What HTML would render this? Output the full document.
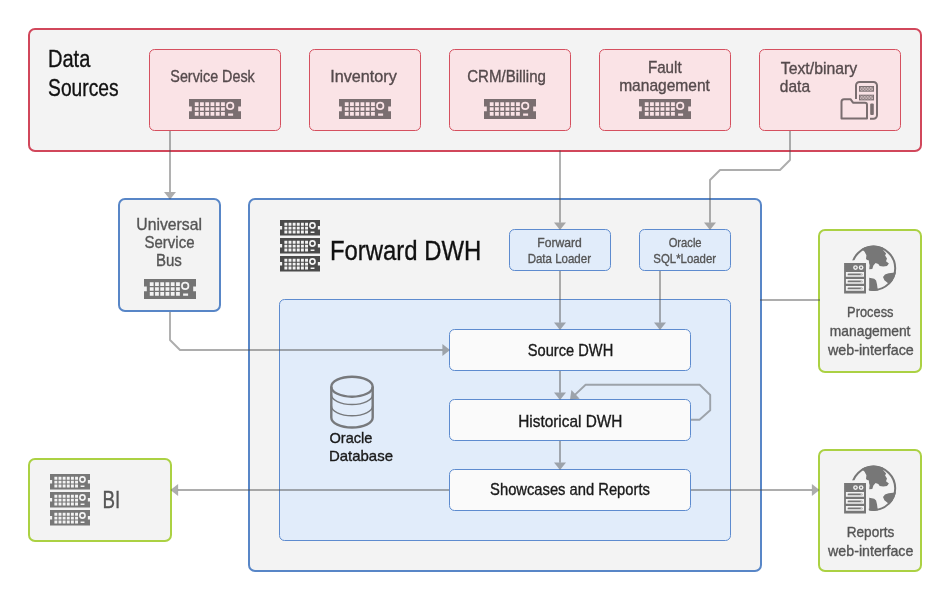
<!DOCTYPE html>
<html><head><meta charset="utf-8"><title>Forward DWH</title>
<style>html,body{margin:0;padding:0;background:#fff}svg{display:block;will-change:transform}text{font-family:"Liberation Sans",sans-serif}</style>
</head><body>
<svg width="950" height="600" viewBox="0 0 950 600" font-family="Liberation Sans, sans-serif">
<rect width="950" height="600" fill="#fff"/>
<rect x="29" y="29" width="892" height="122" rx="6" fill="#f3f3f3" stroke="#d1475b" stroke-width="2"/>
<rect x="149.5" y="49.5" width="131.0" height="81" rx="5" fill="#fae3e6" stroke="#d5505f" stroke-width="1"/>
<rect x="309.5" y="49.5" width="111.0" height="81" rx="5" fill="#fae3e6" stroke="#d5505f" stroke-width="1"/>
<rect x="449.5" y="49.5" width="121.0" height="81" rx="5" fill="#fae3e6" stroke="#d5505f" stroke-width="1"/>
<rect x="599.5" y="49.5" width="131.0" height="81" rx="5" fill="#fae3e6" stroke="#d5505f" stroke-width="1"/>
<rect x="759.5" y="49.5" width="141.0" height="81" rx="5" fill="#fae3e6" stroke="#d5505f" stroke-width="1"/>
<path transform="translate(189 99) scale(1.0 1.0)" d="M0 0H52V7.6H49.2V12.2H52V20H0V12.2H2.8V7.6H0ZM5.80 3.20h3.8v3.7h-3.8ZM11.05 3.20h3.8v3.7h-3.8ZM16.30 3.20h3.8v3.7h-3.8ZM21.55 3.20h3.8v3.7h-3.8ZM26.80 3.20h3.8v3.7h-3.8ZM32.05 3.20h3.8v3.7h-3.8ZM5.80 8.15h3.8v3.7h-3.8ZM11.05 8.15h3.8v3.7h-3.8ZM16.30 8.15h3.8v3.7h-3.8ZM21.55 8.15h3.8v3.7h-3.8ZM26.80 8.15h3.8v3.7h-3.8ZM32.05 8.15h3.8v3.7h-3.8ZM5.80 13.10h3.8v3.7h-3.8ZM11.05 13.10h3.8v3.7h-3.8ZM16.30 13.10h3.8v3.7h-3.8ZM21.55 13.10h3.8v3.7h-3.8ZM26.80 13.10h3.8v3.7h-3.8ZM32.05 13.10h3.8v3.7h-3.8ZM37.10 6.9a4.1 4.1 0 1 0 8.2 0a4.1 4.1 0 1 0 -8.2 0ZM38.80 6.9a2.4 2.4 0 1 0 4.8 0a2.4 2.4 0 1 0 -4.8 0ZM39.1 14.6h5v2.1h-5Z" fill="#7a6e70" fill-rule="evenodd"/>
<path transform="translate(339 99) scale(1.0 1.0)" d="M0 0H52V7.6H49.2V12.2H52V20H0V12.2H2.8V7.6H0ZM5.80 3.20h3.8v3.7h-3.8ZM11.05 3.20h3.8v3.7h-3.8ZM16.30 3.20h3.8v3.7h-3.8ZM21.55 3.20h3.8v3.7h-3.8ZM26.80 3.20h3.8v3.7h-3.8ZM32.05 3.20h3.8v3.7h-3.8ZM5.80 8.15h3.8v3.7h-3.8ZM11.05 8.15h3.8v3.7h-3.8ZM16.30 8.15h3.8v3.7h-3.8ZM21.55 8.15h3.8v3.7h-3.8ZM26.80 8.15h3.8v3.7h-3.8ZM32.05 8.15h3.8v3.7h-3.8ZM5.80 13.10h3.8v3.7h-3.8ZM11.05 13.10h3.8v3.7h-3.8ZM16.30 13.10h3.8v3.7h-3.8ZM21.55 13.10h3.8v3.7h-3.8ZM26.80 13.10h3.8v3.7h-3.8ZM32.05 13.10h3.8v3.7h-3.8ZM37.10 6.9a4.1 4.1 0 1 0 8.2 0a4.1 4.1 0 1 0 -8.2 0ZM38.80 6.9a2.4 2.4 0 1 0 4.8 0a2.4 2.4 0 1 0 -4.8 0ZM39.1 14.6h5v2.1h-5Z" fill="#7a6e70" fill-rule="evenodd"/>
<path transform="translate(484 99) scale(1.0 1.0)" d="M0 0H52V7.6H49.2V12.2H52V20H0V12.2H2.8V7.6H0ZM5.80 3.20h3.8v3.7h-3.8ZM11.05 3.20h3.8v3.7h-3.8ZM16.30 3.20h3.8v3.7h-3.8ZM21.55 3.20h3.8v3.7h-3.8ZM26.80 3.20h3.8v3.7h-3.8ZM32.05 3.20h3.8v3.7h-3.8ZM5.80 8.15h3.8v3.7h-3.8ZM11.05 8.15h3.8v3.7h-3.8ZM16.30 8.15h3.8v3.7h-3.8ZM21.55 8.15h3.8v3.7h-3.8ZM26.80 8.15h3.8v3.7h-3.8ZM32.05 8.15h3.8v3.7h-3.8ZM5.80 13.10h3.8v3.7h-3.8ZM11.05 13.10h3.8v3.7h-3.8ZM16.30 13.10h3.8v3.7h-3.8ZM21.55 13.10h3.8v3.7h-3.8ZM26.80 13.10h3.8v3.7h-3.8ZM32.05 13.10h3.8v3.7h-3.8ZM37.10 6.9a4.1 4.1 0 1 0 8.2 0a4.1 4.1 0 1 0 -8.2 0ZM38.80 6.9a2.4 2.4 0 1 0 4.8 0a2.4 2.4 0 1 0 -4.8 0ZM39.1 14.6h5v2.1h-5Z" fill="#7a6e70" fill-rule="evenodd"/>
<path transform="translate(639 99) scale(1.0 1.0)" d="M0 0H52V7.6H49.2V12.2H52V20H0V12.2H2.8V7.6H0ZM5.80 3.20h3.8v3.7h-3.8ZM11.05 3.20h3.8v3.7h-3.8ZM16.30 3.20h3.8v3.7h-3.8ZM21.55 3.20h3.8v3.7h-3.8ZM26.80 3.20h3.8v3.7h-3.8ZM32.05 3.20h3.8v3.7h-3.8ZM5.80 8.15h3.8v3.7h-3.8ZM11.05 8.15h3.8v3.7h-3.8ZM16.30 8.15h3.8v3.7h-3.8ZM21.55 8.15h3.8v3.7h-3.8ZM26.80 8.15h3.8v3.7h-3.8ZM32.05 8.15h3.8v3.7h-3.8ZM5.80 13.10h3.8v3.7h-3.8ZM11.05 13.10h3.8v3.7h-3.8ZM16.30 13.10h3.8v3.7h-3.8ZM21.55 13.10h3.8v3.7h-3.8ZM26.80 13.10h3.8v3.7h-3.8ZM32.05 13.10h3.8v3.7h-3.8ZM37.10 6.9a4.1 4.1 0 1 0 8.2 0a4.1 4.1 0 1 0 -8.2 0ZM38.80 6.9a2.4 2.4 0 1 0 4.8 0a2.4 2.4 0 1 0 -4.8 0ZM39.1 14.6h5v2.1h-5Z" fill="#7a6e70" fill-rule="evenodd"/>
<g fill="none" stroke="#7a6e70" stroke-width="2" stroke-linejoin="round">
<path d="M856 99 V85.5 a3.5 3.5 0 0 1 3.500 -3.500 h14 a3.5 3.5 0 0 1 3.500 3.500 v29.800 a3.5 3.5 0 0 1 -3.500 3.500 h-3.500"/>
<path d="M841.5 118.600 V101.700 a2.500 2.500 0 0 1 2.500 -2.500 h6.500 l2.500 3.500 h12 a2 2 0 0 1 2 2 v13.900 Z"/>
</g>
<defs><pattern id="hatch" width="1.5" height="1.5" patternUnits="userSpaceOnUse"><rect width="1.5" height="1.5" fill="#7a6e70"/><rect x="0" y="0" width="0.7" height="0.7" fill="#fae3e6"/><rect x="0.75" y="0.75" width="0.7" height="0.7" fill="#fae3e6"/></pattern></defs>
<rect x="859" y="86.0" width="15" height="5.700" fill="#7a6e70"/>
<rect x="859.9" y="86.9" width="13.2" height="3.900" fill="url(#hatch)"/>
<rect x="859" y="94.7" width="15" height="5.700" fill="#7a6e70"/>
<rect x="859.9" y="95.60000000000001" width="13.2" height="3.900" fill="url(#hatch)"/>
<rect x="870.2" y="103.500" width="3.600" height="11.500" rx="1" fill="#7a6e70"/>
<rect x="119" y="199" width="101" height="112" rx="6" fill="#f3f3f3" stroke="#5886c7" stroke-width="2"/>
<path transform="translate(144 279) scale(1.0 1.0)" d="M0 0H52V7.6H49.2V12.2H52V20H0V12.2H2.8V7.6H0ZM5.80 3.20h3.8v3.7h-3.8ZM11.05 3.20h3.8v3.7h-3.8ZM16.30 3.20h3.8v3.7h-3.8ZM21.55 3.20h3.8v3.7h-3.8ZM26.80 3.20h3.8v3.7h-3.8ZM32.05 3.20h3.8v3.7h-3.8ZM5.80 8.15h3.8v3.7h-3.8ZM11.05 8.15h3.8v3.7h-3.8ZM16.30 8.15h3.8v3.7h-3.8ZM21.55 8.15h3.8v3.7h-3.8ZM26.80 8.15h3.8v3.7h-3.8ZM32.05 8.15h3.8v3.7h-3.8ZM5.80 13.10h3.8v3.7h-3.8ZM11.05 13.10h3.8v3.7h-3.8ZM16.30 13.10h3.8v3.7h-3.8ZM21.55 13.10h3.8v3.7h-3.8ZM26.80 13.10h3.8v3.7h-3.8ZM32.05 13.10h3.8v3.7h-3.8ZM37.10 6.9a4.1 4.1 0 1 0 8.2 0a4.1 4.1 0 1 0 -8.2 0ZM38.80 6.9a2.4 2.4 0 1 0 4.8 0a2.4 2.4 0 1 0 -4.8 0ZM39.1 14.6h5v2.1h-5Z" fill="#747474" fill-rule="evenodd"/>
<rect x="249" y="199" width="512" height="372" rx="6" fill="#f3f3f3" stroke="#5886c7" stroke-width="2"/>
<path transform="translate(280 220) scale(0.7692307692307693 0.78)" d="M0 0H52V7.6H49.2V12.2H52V20H0V12.2H2.8V7.6H0ZM5.70 3.60h3.8v3.7h-3.8ZM11.08 3.60h3.8v3.7h-3.8ZM16.46 3.60h3.8v3.7h-3.8ZM21.84 3.60h3.8v3.7h-3.8ZM27.22 3.60h3.8v3.7h-3.8ZM32.60 3.60h3.8v3.7h-3.8ZM5.70 8.55h3.8v3.7h-3.8ZM11.08 8.55h3.8v3.7h-3.8ZM16.46 8.55h3.8v3.7h-3.8ZM21.84 8.55h3.8v3.7h-3.8ZM27.22 8.55h3.8v3.7h-3.8ZM32.60 8.55h3.8v3.7h-3.8ZM5.70 13.50h3.8v3.7h-3.8ZM11.08 13.50h3.8v3.7h-3.8ZM16.46 13.50h3.8v3.7h-3.8ZM21.84 13.50h3.8v3.7h-3.8ZM27.22 13.50h3.8v3.7h-3.8ZM32.60 13.50h3.8v3.7h-3.8ZM37.80 7.0a4.4 4.4 0 1 0 8.8 0a4.4 4.4 0 1 0 -8.8 0ZM39.90 7.0a2.3 2.3 0 1 0 4.6 0a2.3 2.3 0 1 0 -4.6 0ZM39.8 14.6h5v2.1h-5Z" fill="#4b4b4b" fill-rule="evenodd"/><path transform="translate(280 238) scale(0.7692307692307693 0.78)" d="M0 0H52V7.6H49.2V12.2H52V20H0V12.2H2.8V7.6H0ZM5.70 3.60h3.8v3.7h-3.8ZM11.08 3.60h3.8v3.7h-3.8ZM16.46 3.60h3.8v3.7h-3.8ZM21.84 3.60h3.8v3.7h-3.8ZM27.22 3.60h3.8v3.7h-3.8ZM32.60 3.60h3.8v3.7h-3.8ZM5.70 8.55h3.8v3.7h-3.8ZM11.08 8.55h3.8v3.7h-3.8ZM16.46 8.55h3.8v3.7h-3.8ZM21.84 8.55h3.8v3.7h-3.8ZM27.22 8.55h3.8v3.7h-3.8ZM32.60 8.55h3.8v3.7h-3.8ZM5.70 13.50h3.8v3.7h-3.8ZM11.08 13.50h3.8v3.7h-3.8ZM16.46 13.50h3.8v3.7h-3.8ZM21.84 13.50h3.8v3.7h-3.8ZM27.22 13.50h3.8v3.7h-3.8ZM32.60 13.50h3.8v3.7h-3.8ZM37.80 7.0a4.4 4.4 0 1 0 8.8 0a4.4 4.4 0 1 0 -8.8 0ZM39.90 7.0a2.3 2.3 0 1 0 4.6 0a2.3 2.3 0 1 0 -4.6 0ZM39.8 14.6h5v2.1h-5Z" fill="#4b4b4b" fill-rule="evenodd"/><path transform="translate(280 256) scale(0.7692307692307693 0.78)" d="M0 0H52V7.6H49.2V12.2H52V20H0V12.2H2.8V7.6H0ZM5.70 3.60h3.8v3.7h-3.8ZM11.08 3.60h3.8v3.7h-3.8ZM16.46 3.60h3.8v3.7h-3.8ZM21.84 3.60h3.8v3.7h-3.8ZM27.22 3.60h3.8v3.7h-3.8ZM32.60 3.60h3.8v3.7h-3.8ZM5.70 8.55h3.8v3.7h-3.8ZM11.08 8.55h3.8v3.7h-3.8ZM16.46 8.55h3.8v3.7h-3.8ZM21.84 8.55h3.8v3.7h-3.8ZM27.22 8.55h3.8v3.7h-3.8ZM32.60 8.55h3.8v3.7h-3.8ZM5.70 13.50h3.8v3.7h-3.8ZM11.08 13.50h3.8v3.7h-3.8ZM16.46 13.50h3.8v3.7h-3.8ZM21.84 13.50h3.8v3.7h-3.8ZM27.22 13.50h3.8v3.7h-3.8ZM32.60 13.50h3.8v3.7h-3.8ZM37.80 7.0a4.4 4.4 0 1 0 8.8 0a4.4 4.4 0 1 0 -8.8 0ZM39.90 7.0a2.3 2.3 0 1 0 4.6 0a2.3 2.3 0 1 0 -4.6 0ZM39.8 14.6h5v2.1h-5Z" fill="#4b4b4b" fill-rule="evenodd"/>
<rect x="509.5" y="229.5" width="101" height="41" rx="5" fill="#e1ecfa" stroke="#5d8bcf"/>
<rect x="639.5" y="229.5" width="91" height="41" rx="5" fill="#e1ecfa" stroke="#5d8bcf"/>
<rect x="279.5" y="299.5" width="451" height="241" rx="5" fill="#e1ecfa" stroke="#5d8bcf"/>
<rect x="449.5" y="329.5" width="241" height="41" rx="5" fill="#fafafa" stroke="#5d8bcf"/>
<rect x="449.5" y="399.5" width="241" height="41" rx="5" fill="#fafafa" stroke="#5d8bcf"/>
<rect x="449.5" y="469.5" width="241" height="41" rx="5" fill="#fafafa" stroke="#5d8bcf"/>
<g fill="none" stroke="#77797c">
<ellipse cx="352" cy="386.700" rx="20.700" ry="10" stroke-width="2.400"/>
<path d="M331.300 386.700V417.500a20.700 10 0 0 0 41.400 0V386.700" stroke-width="2.400"/>
<path d="M331.300 394.500a20.700 10 0 0 0 41.400 0" stroke-width="1.500"/>
<path d="M331.300 405.800a20.700 10 0 0 0 41.400 0" stroke-width="1.500"/>
</g>
<rect x="819" y="230" width="102" height="142" rx="6" fill="#f3f3f3" stroke="#abd143" stroke-width="2"/>
<rect x="819" y="450" width="102" height="121" rx="6" fill="#f3f3f3" stroke="#abd143" stroke-width="2"/>
<rect x="29" y="459" width="142" height="82" rx="6" fill="#f3f3f3" stroke="#abd143" stroke-width="2"/>
<path transform="translate(50 474) scale(0.7692307692307693 0.78)" d="M0 0H52V7.6H49.2V12.2H52V20H0V12.2H2.8V7.6H0ZM5.70 3.60h3.8v3.7h-3.8ZM11.08 3.60h3.8v3.7h-3.8ZM16.46 3.60h3.8v3.7h-3.8ZM21.84 3.60h3.8v3.7h-3.8ZM27.22 3.60h3.8v3.7h-3.8ZM32.60 3.60h3.8v3.7h-3.8ZM5.70 8.55h3.8v3.7h-3.8ZM11.08 8.55h3.8v3.7h-3.8ZM16.46 8.55h3.8v3.7h-3.8ZM21.84 8.55h3.8v3.7h-3.8ZM27.22 8.55h3.8v3.7h-3.8ZM32.60 8.55h3.8v3.7h-3.8ZM5.70 13.50h3.8v3.7h-3.8ZM11.08 13.50h3.8v3.7h-3.8ZM16.46 13.50h3.8v3.7h-3.8ZM21.84 13.50h3.8v3.7h-3.8ZM27.22 13.50h3.8v3.7h-3.8ZM32.60 13.50h3.8v3.7h-3.8ZM37.80 7.0a4.4 4.4 0 1 0 8.8 0a4.4 4.4 0 1 0 -8.8 0ZM39.90 7.0a2.3 2.3 0 1 0 4.6 0a2.3 2.3 0 1 0 -4.6 0ZM39.8 14.6h5v2.1h-5Z" fill="#777" fill-rule="evenodd"/><path transform="translate(50 492) scale(0.7692307692307693 0.78)" d="M0 0H52V7.6H49.2V12.2H52V20H0V12.2H2.8V7.6H0ZM5.70 3.60h3.8v3.7h-3.8ZM11.08 3.60h3.8v3.7h-3.8ZM16.46 3.60h3.8v3.7h-3.8ZM21.84 3.60h3.8v3.7h-3.8ZM27.22 3.60h3.8v3.7h-3.8ZM32.60 3.60h3.8v3.7h-3.8ZM5.70 8.55h3.8v3.7h-3.8ZM11.08 8.55h3.8v3.7h-3.8ZM16.46 8.55h3.8v3.7h-3.8ZM21.84 8.55h3.8v3.7h-3.8ZM27.22 8.55h3.8v3.7h-3.8ZM32.60 8.55h3.8v3.7h-3.8ZM5.70 13.50h3.8v3.7h-3.8ZM11.08 13.50h3.8v3.7h-3.8ZM16.46 13.50h3.8v3.7h-3.8ZM21.84 13.50h3.8v3.7h-3.8ZM27.22 13.50h3.8v3.7h-3.8ZM32.60 13.50h3.8v3.7h-3.8ZM37.80 7.0a4.4 4.4 0 1 0 8.8 0a4.4 4.4 0 1 0 -8.8 0ZM39.90 7.0a2.3 2.3 0 1 0 4.6 0a2.3 2.3 0 1 0 -4.6 0ZM39.8 14.6h5v2.1h-5Z" fill="#777" fill-rule="evenodd"/><path transform="translate(50 510) scale(0.7692307692307693 0.78)" d="M0 0H52V7.6H49.2V12.2H52V20H0V12.2H2.8V7.6H0ZM5.70 3.60h3.8v3.7h-3.8ZM11.08 3.60h3.8v3.7h-3.8ZM16.46 3.60h3.8v3.7h-3.8ZM21.84 3.60h3.8v3.7h-3.8ZM27.22 3.60h3.8v3.7h-3.8ZM32.60 3.60h3.8v3.7h-3.8ZM5.70 8.55h3.8v3.7h-3.8ZM11.08 8.55h3.8v3.7h-3.8ZM16.46 8.55h3.8v3.7h-3.8ZM21.84 8.55h3.8v3.7h-3.8ZM27.22 8.55h3.8v3.7h-3.8ZM32.60 8.55h3.8v3.7h-3.8ZM5.70 13.50h3.8v3.7h-3.8ZM11.08 13.50h3.8v3.7h-3.8ZM16.46 13.50h3.8v3.7h-3.8ZM21.84 13.50h3.8v3.7h-3.8ZM27.22 13.50h3.8v3.7h-3.8ZM32.60 13.50h3.8v3.7h-3.8ZM37.80 7.0a4.4 4.4 0 1 0 8.8 0a4.4 4.4 0 1 0 -8.8 0ZM39.90 7.0a2.3 2.3 0 1 0 4.6 0a2.3 2.3 0 1 0 -4.6 0ZM39.8 14.6h5v2.1h-5Z" fill="#777" fill-rule="evenodd"/>
<g transform="translate(0 0)"><clipPath id="gc0"><circle cx="873.5" cy="268.3" r="22.7"/></clipPath><circle cx="873.5" cy="268.3" r="21.7" fill="none" stroke="#777" stroke-width="2"/><g clip-path="url(#gc0)" fill="#777"><path d="M860 240 L862.3 249.8 L864.6 251.8 L866.4 255.2 L866.0 259.0 L868.6 261.2 L869.6 265.2 L869.2 269.3 L872.3 268.9 L873.4 265.5 L875.6 263.0 L878.3 263.9 L879.7 265.9 L883.2 266.6 L887.0 266.0 L888.9 263.5 L886.0 261.2 L887.0 258.5 L885.1 255.4 L886.1 253.6 L883.3 250.3 L884 240Z"/><path d="M900 271.2 L893.1 272.8 L888.6 273.3 L885 274.6 L883 277.1 L884.4 280.3 L887.2 282.6 L889 284.2 L900 287Z"/><path d="M869.2 277.8 L874.2 278.7 L876.1 280.6 L877 284.3 L877.5 287.9 L878.2 289.8 L878.2 296 L869.2 296Z"/></g><rect x="840.5" y="260.3" width="28.3" height="37" fill="#f3f3f3"/><path d="M844.1 263.1h21.9v30.4h-21.9ZM845.9 271.90h18.1v4.9h-18.1ZM845.9 278.90h18.1v4.9h-18.1ZM845.9 285.90h18.1v4.9h-18.1ZM853.1 267.6a2.4 2.4 0 1 0 4.8 0a2.4 2.4 0 1 0 -4.8 0ZM858.7 267.6a2.4 2.4 0 1 0 4.8 0a2.4 2.4 0 1 0 -4.8 0Z" fill="#777" fill-rule="evenodd"/><rect x="847.6" y="273.40" width="14.9" height="1.9" rx="0.9" fill="#777"/><circle cx="861.3000000000001" cy="274.35" r="0.75" fill="#f3f3f3" fill-opacity="0.75"/><rect x="847.6" y="280.40" width="14.9" height="1.9" rx="0.9" fill="#777"/><circle cx="861.3000000000001" cy="281.35" r="0.75" fill="#f3f3f3" fill-opacity="0.75"/><rect x="847.6" y="287.40" width="14.9" height="1.9" rx="0.9" fill="#777"/><circle cx="861.3000000000001" cy="288.35" r="0.75" fill="#f3f3f3" fill-opacity="0.75"/><circle cx="855.5" cy="267.6" r="1.0" fill="#777"/><circle cx="861.1" cy="267.6" r="1.0" fill="#777"/></g>
<g transform="translate(0 220)"><clipPath id="gc220"><circle cx="873.5" cy="268.3" r="22.7"/></clipPath><circle cx="873.5" cy="268.3" r="21.7" fill="none" stroke="#777" stroke-width="2"/><g clip-path="url(#gc220)" fill="#777"><path d="M860 240 L862.3 249.8 L864.6 251.8 L866.4 255.2 L866.0 259.0 L868.6 261.2 L869.6 265.2 L869.2 269.3 L872.3 268.9 L873.4 265.5 L875.6 263.0 L878.3 263.9 L879.7 265.9 L883.2 266.6 L887.0 266.0 L888.9 263.5 L886.0 261.2 L887.0 258.5 L885.1 255.4 L886.1 253.6 L883.3 250.3 L884 240Z"/><path d="M900 271.2 L893.1 272.8 L888.6 273.3 L885 274.6 L883 277.1 L884.4 280.3 L887.2 282.6 L889 284.2 L900 287Z"/><path d="M869.2 277.8 L874.2 278.7 L876.1 280.6 L877 284.3 L877.5 287.9 L878.2 289.8 L878.2 296 L869.2 296Z"/></g><rect x="840.5" y="260.3" width="28.3" height="37" fill="#f3f3f3"/><path d="M844.1 263.1h21.9v30.4h-21.9ZM845.9 271.90h18.1v4.9h-18.1ZM845.9 278.90h18.1v4.9h-18.1ZM845.9 285.90h18.1v4.9h-18.1ZM853.1 267.6a2.4 2.4 0 1 0 4.8 0a2.4 2.4 0 1 0 -4.8 0ZM858.7 267.6a2.4 2.4 0 1 0 4.8 0a2.4 2.4 0 1 0 -4.8 0Z" fill="#777" fill-rule="evenodd"/><rect x="847.6" y="273.40" width="14.9" height="1.9" rx="0.9" fill="#777"/><circle cx="861.3000000000001" cy="274.35" r="0.75" fill="#f3f3f3" fill-opacity="0.75"/><rect x="847.6" y="280.40" width="14.9" height="1.9" rx="0.9" fill="#777"/><circle cx="861.3000000000001" cy="281.35" r="0.75" fill="#f3f3f3" fill-opacity="0.75"/><rect x="847.6" y="287.40" width="14.9" height="1.9" rx="0.9" fill="#777"/><circle cx="861.3000000000001" cy="288.35" r="0.75" fill="#f3f3f3" fill-opacity="0.75"/><circle cx="855.5" cy="267.6" r="1.0" fill="#777"/><circle cx="861.1" cy="267.6" r="1.0" fill="#777"/></g>
<path d="M170.00 199.50L164.00 191.90L176.00 191.90Z" fill="#4c4c4c" fill-opacity="0.46"/><path d="M170.00 131.00L170.00 192.10" fill="none" stroke="#4c4c4c" stroke-opacity="0.46" stroke-width="1.9" stroke-linejoin="round"/>
<path d="M560.00 230.00L554.00 222.40L566.00 222.40Z" fill="#4c4c4c" fill-opacity="0.46"/><path d="M560.00 150.50L560.00 222.60" fill="none" stroke="#4c4c4c" stroke-opacity="0.46" stroke-width="1.9" stroke-linejoin="round"/>
<path d="M710.00 230.00L704.00 222.40L716.00 222.40Z" fill="#4c4c4c" fill-opacity="0.46"/><path d="M790.00 131.00L790.00 160.00L780.00 170.00L720.00 170.00L710.00 180.00L710.00 222.60" fill="none" stroke="#4c4c4c" stroke-opacity="0.46" stroke-width="1.9" stroke-linejoin="round"/>
<path d="M560.00 330.00L554.00 322.40L566.00 322.40Z" fill="#4c4c4c" fill-opacity="0.46"/><path d="M560.00 271.00L560.00 322.60" fill="none" stroke="#4c4c4c" stroke-opacity="0.46" stroke-width="1.9" stroke-linejoin="round"/>
<path d="M660.00 330.00L654.00 322.40L666.00 322.40Z" fill="#4c4c4c" fill-opacity="0.46"/><path d="M660.00 271.00L660.00 322.60" fill="none" stroke="#4c4c4c" stroke-opacity="0.46" stroke-width="1.9" stroke-linejoin="round"/>
<path d="M450.00 350.00L442.40 356.00L442.40 344.00Z" fill="#4c4c4c" fill-opacity="0.46"/><path d="M170.00 312.00L170.00 340.00L180.00 350.00L442.60 350.00" fill="none" stroke="#4c4c4c" stroke-opacity="0.46" stroke-width="1.9" stroke-linejoin="round"/>
<path d="M560.00 400.00L554.00 392.40L566.00 392.40Z" fill="#4c4c4c" fill-opacity="0.46"/><path d="M560.00 371.00L560.00 392.60" fill="none" stroke="#4c4c4c" stroke-opacity="0.46" stroke-width="1.9" stroke-linejoin="round"/>
<path d="M560.00 470.00L554.00 462.40L566.00 462.40Z" fill="#4c4c4c" fill-opacity="0.46"/><path d="M560.00 441.00L560.00 462.60" fill="none" stroke="#4c4c4c" stroke-opacity="0.46" stroke-width="1.9" stroke-linejoin="round"/>
<path d="M570.00 399.50L571.42 389.92L579.65 398.65Z" fill="#4c4c4c" fill-opacity="0.46"/><path d="M691.00 419.80L699.50 419.80L710.20 410.20L710.20 395.00L699.70 384.80L585.60 384.80L575.39 394.43" fill="none" stroke="#4c4c4c" stroke-opacity="0.46" stroke-width="1.9" stroke-linejoin="round"/>
<path d="M170.50 490.00L178.10 484.00L178.10 496.00Z" fill="#4c4c4c" fill-opacity="0.46"/><path d="M449.00 490.00L177.90 490.00" fill="none" stroke="#4c4c4c" stroke-opacity="0.46" stroke-width="1.9" stroke-linejoin="round"/>
<path d="M819.50 490.00L811.90 496.00L811.90 484.00Z" fill="#4c4c4c" fill-opacity="0.46"/><path d="M691.00 490.00L812.10 490.00" fill="none" stroke="#4c4c4c" stroke-opacity="0.46" stroke-width="1.9" stroke-linejoin="round"/>
<path d="M760.00 300.00L820.00 300.00" fill="none" stroke="#4c4c4c" stroke-opacity="0.46" stroke-width="2" stroke-linejoin="round"/>
<text x="47.93" y="66.5" font-size="23" fill="#111" stroke="#111" stroke-width="0.35" textLength="42.40" lengthAdjust="spacingAndGlyphs">Data</text>
<text x="48.10" y="96.0" font-size="23" fill="#111" stroke="#111" stroke-width="0.35" textLength="70.42" lengthAdjust="spacingAndGlyphs">Sources</text>
<text x="170.32" y="81.8" font-size="17" fill="#554a4c" stroke="#554a4c" stroke-width="0.35" textLength="84.48" lengthAdjust="spacingAndGlyphs">Service Desk</text>
<text x="330.18" y="81.8" font-size="17" fill="#554a4c" stroke="#554a4c" stroke-width="0.35" textLength="66.68" lengthAdjust="spacingAndGlyphs">Inventory</text>
<text x="467.21" y="81.8" font-size="17" fill="#554a4c" stroke="#554a4c" stroke-width="0.35" textLength="78.69" lengthAdjust="spacingAndGlyphs">CRM/Billing</text>
<text x="647.93" y="73.2" font-size="17" fill="#554a4c" stroke="#554a4c" stroke-width="0.35" textLength="33.70" lengthAdjust="spacingAndGlyphs">Fault</text>
<text x="619.14" y="91.2" font-size="17" fill="#554a4c" stroke="#554a4c" stroke-width="0.35" textLength="90.80" lengthAdjust="spacingAndGlyphs">management</text>
<text x="780.73" y="73.5" font-size="17" fill="#554a4c" stroke="#554a4c" stroke-width="0.35" textLength="76.53" lengthAdjust="spacingAndGlyphs">Text/binary</text>
<text x="779.82" y="91.5" font-size="17" fill="#554a4c" stroke="#554a4c" stroke-width="0.35" textLength="30.20" lengthAdjust="spacingAndGlyphs">data</text>
<text x="136.36" y="229.8" font-size="17" fill="#555" stroke="#555" stroke-width="0.35" textLength="65.62" lengthAdjust="spacingAndGlyphs">Universal</text>
<text x="144.49" y="247.7" font-size="17" fill="#555" stroke="#555" stroke-width="0.35" textLength="50.00" lengthAdjust="spacingAndGlyphs">Service</text>
<text x="155.94" y="265.7" font-size="17" fill="#555" stroke="#555" stroke-width="0.35" textLength="25.93" lengthAdjust="spacingAndGlyphs">Bus</text>
<text x="329.92" y="259.6" font-size="28.2" fill="#111" stroke="#111" stroke-width="0.35" textLength="151.26" lengthAdjust="spacingAndGlyphs">Forward DWH</text>
<text x="537.28" y="246.9" font-size="13" fill="#555" stroke="#555" stroke-width="0.35" textLength="44.53" lengthAdjust="spacingAndGlyphs">Forward</text>
<text x="527.63" y="262.9" font-size="13" fill="#555" stroke="#555" stroke-width="0.35" textLength="63.39" lengthAdjust="spacingAndGlyphs">Data Loader</text>
<text x="668.64" y="246.9" font-size="13" fill="#555" stroke="#555" stroke-width="0.35" textLength="32.98" lengthAdjust="spacingAndGlyphs">Oracle</text>
<text x="653.36" y="262.9" font-size="13" fill="#555" stroke="#555" stroke-width="0.35" textLength="62.66" lengthAdjust="spacingAndGlyphs">SQL*Loader</text>
<text x="527.81" y="355.8" font-size="15.9" fill="#1a1a1a" stroke="#1a1a1a" stroke-width="0.35" textLength="85.41" lengthAdjust="spacingAndGlyphs">Source DWH</text>
<text x="518.21" y="426.7" font-size="15.9" fill="#1a1a1a" stroke="#1a1a1a" stroke-width="0.35" textLength="104.27" lengthAdjust="spacingAndGlyphs">Historical DWH</text>
<text x="490.11" y="494.9" font-size="15.9" fill="#1a1a1a" stroke="#1a1a1a" stroke-width="0.35" textLength="159.75" lengthAdjust="spacingAndGlyphs">Showcases and Reports</text>
<text x="329.48" y="443.3" font-size="15" fill="#1a1a1a" stroke="#1a1a1a" stroke-width="0.35" textLength="42.99" lengthAdjust="spacingAndGlyphs">Oracle</text>
<text x="328.95" y="461.3" font-size="15" fill="#1a1a1a" stroke="#1a1a1a" stroke-width="0.35" textLength="64.04" lengthAdjust="spacingAndGlyphs">Database</text>
<text x="847.12" y="316.8" font-size="14.3" fill="#555" stroke="#555" stroke-width="0.35" textLength="46.37" lengthAdjust="spacingAndGlyphs">Process</text>
<text x="829.86" y="335.5" font-size="14.3" fill="#555" stroke="#555" stroke-width="0.35" textLength="80.57" lengthAdjust="spacingAndGlyphs">management</text>
<text x="827.90" y="354.5" font-size="14.3" fill="#555" stroke="#555" stroke-width="0.35" textLength="85.86" lengthAdjust="spacingAndGlyphs">web-interface</text>
<text x="846.66" y="537.0" font-size="14.3" fill="#555" stroke="#555" stroke-width="0.35" textLength="47.66" lengthAdjust="spacingAndGlyphs">Reports</text>
<text x="828.10" y="555.9" font-size="14.3" fill="#555" stroke="#555" stroke-width="0.35" textLength="85.26" lengthAdjust="spacingAndGlyphs">web-interface</text>
<text x="102.44" y="507.8" font-size="23" fill="#555" stroke="#555" stroke-width="0.35" textLength="17.72" lengthAdjust="spacingAndGlyphs">BI</text>
</svg>
</body></html>
